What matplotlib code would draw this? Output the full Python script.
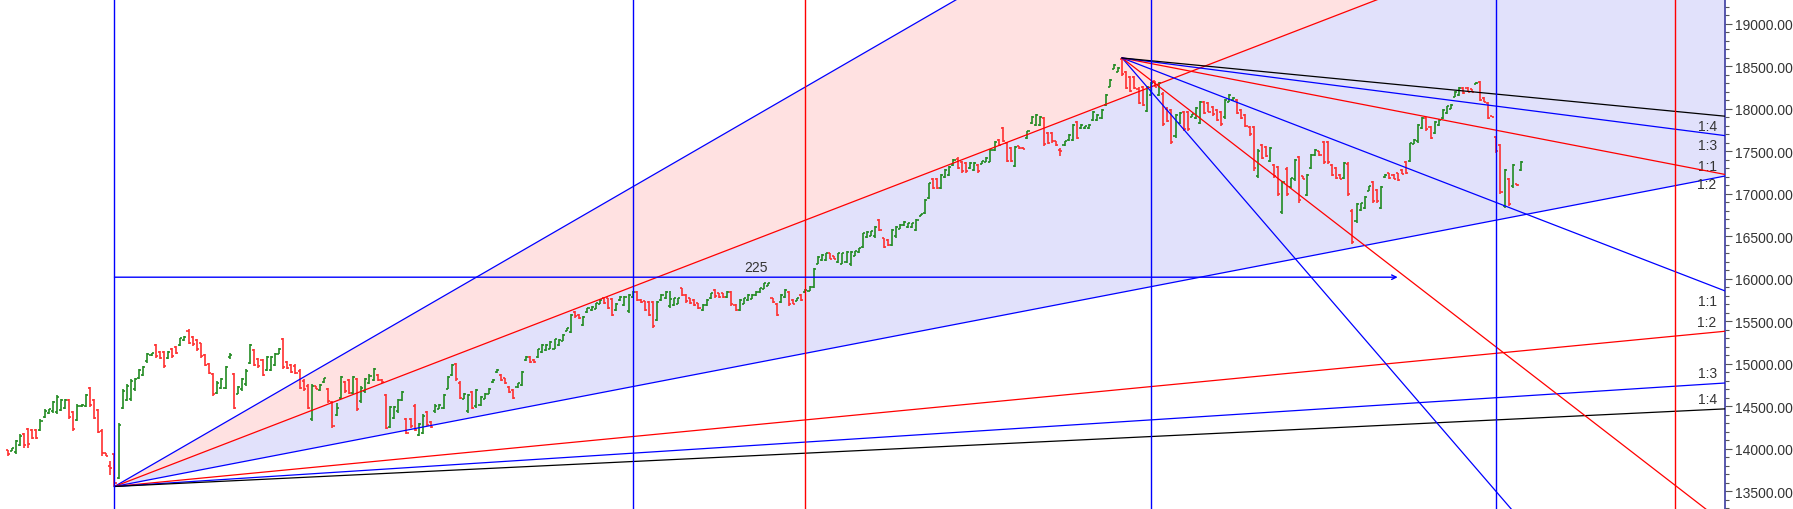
import numpy as np
import matplotlib
matplotlib.use('Agg')
import matplotlib.pyplot as plt
from matplotlib.collections import LineCollection
from matplotlib.ticker import MultipleLocator, FormatStrFormatter

# daily bars: [open, high, low, close]
pre_low = [
    [13985, 13992, 13914, 13935], [13980, 14012, 13973, 14005], [13960, 14102, 13934, 14090],
    [14050, 14169, 14032, 14155], [14180, 14189, 14012, 14040], [14230, 14240, 14012, 14060],
    [14220, 14228, 14110, 14125], [14225, 14236, 14118, 14130], [14220, 14346, 14208, 14330],
    [14370, 14464, 14358, 14450], [14420, 14472, 14405, 14465], [14440, 14562, 14424, 14550],
    [14430, 14629, 14413, 14615], [14460, 14582, 14444, 14570], [14480, 14589, 14464, 14580],
    [14580, 14589, 14346, 14380], [14430, 14444, 14208, 14230], [14340, 14523, 14326, 14500],
    [14500, 14523, 14495, 14520], [14510, 14640, 14495, 14630], [14720, 14727, 14495, 14520],
    [14570, 14582, 14346, 14360], [14460, 14472, 14189, 14200], [14215, 14228, 13914, 13950],
    [13950, 13954, 13914, 13920], [13800, 13855, 13698, 13780], [13935, 13940, 13557, 13600],
]

leg_a = [
    [13660, 14307, 13640, 14280], [14480, 14699, 14464, 14680], [14580, 14758, 14562, 14740],
    [14590, 14817, 14562, 14800], [14700, 14837, 14680, 14820], [14830, 14935, 14817, 14925],
    [14870, 14974, 14856, 14960], [15030, 15131, 15013, 15120], [15100, 15131, 15092, 15125],
    [15220, 15229, 15072, 15090], [15140, 15151, 15053, 15070], [15140, 15151, 14955, 14980],
    [15070, 15151, 15053, 15140], [15180, 15190, 15072, 15090], [15200, 15210, 15112, 15130],
    [15220, 15308, 15210, 15300], [15280, 15328, 15269, 15320], [15390, 15406, 15229, 15250],
    [15320, 15328, 15210, 15230], [15280, 15288, 15151, 15170], [15240, 15249, 15072, 15090],
    [15100, 15112, 14974, 14990], [15000, 15013, 14876, 14890], [14880, 14896, 14621, 14640],
    [14660, 14797, 14640, 14780], [14720, 14837, 14699, 14820], [14720, 14974, 14699, 14960],
    [15080, 15131, 15053, 15100], [14880, 14896, 14464, 14480], [14650, 14739, 14640, 14730],
    [14700, 14837, 14680, 14820], [14760, 14935, 14739, 14920], [15010, 15229, 14994, 15220],
    [15160, 15171, 14974, 14990], [15060, 15072, 14955, 14970], [15040, 15053, 14856, 14870],
    [14930, 15092, 14915, 15080], [14930, 15092, 14915, 15080],
]

leg_b = [
    [14990, 15132, 14975, 15120], [15120, 15191, 15112, 15180], [15290, 15308, 14935, 14960],
    [15020, 15033, 14935, 14950], [14985, 14994, 14896, 14910], [14980, 14994, 14876, 14890],
    [14920, 14935, 14700, 14720], [14800, 14817, 14680, 14700], [14740, 14759, 14464, 14480],
    [14350, 14759, 14327, 14740], [14735, 14739, 14700, 14705], [14690, 14759, 14680, 14750],
    [14790, 14837, 14778, 14830], [14710, 14719, 14543, 14560], [14550, 14562, 14248, 14270],
    [14400, 14543, 14386, 14480], [14600, 14857, 14582, 14840], [14790, 14798, 14660, 14680],
    [14810, 14817, 14641, 14660], [14660, 14857, 14641, 14845], [14820, 14837, 14444, 14470],
    [14560, 14739, 14543, 14720], [14680, 14837, 14660, 14820], [14780, 14876, 14759, 14860],
    [14810, 14955, 14798, 14940], [14870, 14876, 14798, 14810], [14815, 14817, 14778, 14785],
    [14630, 14641, 14229, 14250], [14260, 14503, 14248, 14490], [14360, 14503, 14346, 14490],
    [14440, 14582, 14425, 14570], [14575, 14680, 14562, 14670], [14350, 14366, 14170, 14190],
    [14355, 14366, 14248, 14265], [14510, 14523, 14209, 14225], [14165, 14307, 14150, 14290],
    [14190, 14405, 14170, 14390], [14430, 14444, 14268, 14285], [14320, 14327, 14248, 14260],
    [14440, 14523, 14425, 14510], [14470, 14523, 14464, 14515], [14480, 14641, 14464, 14630],
    [14710, 14857, 14700, 14845], [14870, 14994, 14857, 14985], [15000, 15014, 14798, 14820],
    [14780, 14798, 14582, 14600], [14590, 14660, 14582, 14650], [14440, 14641, 14425, 14630],
    [14670, 14680, 14464, 14480], [14500, 14700, 14484, 14690], [14515, 14621, 14503, 14610],
    [14590, 14660, 14582, 14650], [14650, 14719, 14641, 14710], [14785, 14817, 14778, 14810],
    [14900, 14935, 14896, 14930], [14870, 14876, 14798, 14810], [14830, 14837, 14759, 14770],
    [14730, 14739, 14660, 14670], [14690, 14700, 14582, 14595], [14725, 14778, 14719, 14770],
    [14750, 14916, 14739, 14905], [15040, 15092, 15033, 15085], [15085, 15092, 15014, 15025],
    [15050, 15053, 15014, 15020],
]

leg_c = [
    [15080, 15179, 15073, 15170], [15140, 15230, 15132, 15220], [15160, 15230, 15151, 15220],
    [15180, 15269, 15171, 15260], [15180, 15297, 15171, 15290], [15220, 15289, 15210, 15280],
    [15275, 15348, 15269, 15340], [15390, 15426, 15387, 15420], [15380, 15583, 15367, 15570],
    [15610, 15623, 15544, 15560], [15575, 15583, 15524, 15535], [15460, 15564, 15446, 15555],
    [15610, 15662, 15603, 15655], [15630, 15682, 15623, 15675], [15650, 15721, 15642, 15715],
    [15710, 15760, 15701, 15750], [15770, 15780, 15701, 15715], [15770, 15780, 15642, 15660],
    [15765, 15780, 15564, 15580], [15630, 15721, 15623, 15710], [15750, 15800, 15741, 15790],
    [15690, 15800, 15682, 15790], [15620, 15819, 15603, 15810], [15790, 15858, 15780, 15850],
    [15850, 15858, 15741, 15755], [15755, 15760, 15721, 15725], [15735, 15741, 15623, 15635],
    [15730, 15741, 15564, 15580], [15730, 15741, 15426, 15450], [15520, 15741, 15505, 15730],
    [15750, 15819, 15741, 15810], [15770, 15858, 15760, 15850], [15680, 15858, 15662, 15760],
    [15690, 15780, 15682, 15770], [15710, 15780, 15701, 15770], [15890, 15898, 15800, 15810],
    [15810, 15819, 15721, 15735], [15775, 15780, 15701, 15715], [15750, 15760, 15682, 15695],
    [15715, 15721, 15642, 15655], [15630, 15701, 15623, 15695], [15690, 15760, 15682, 15750],
    [15770, 15839, 15760, 15830], [15870, 15878, 15780, 15795], [15830, 15839, 15780, 15790],
    [15830, 15839, 15780, 15790], [15790, 15858, 15780, 15850], [15850, 15858, 15682, 15700],
    [15695, 15701, 15623, 15635], [15635, 15760, 15623, 15750], [15710, 15780, 15701, 15770],
    [15750, 15819, 15741, 15810], [15765, 15819, 15760, 15810], [15805, 15858, 15800, 15850],
    [15845, 15898, 15839, 15890], [15885, 15957, 15878, 15950], [15920, 15957, 15917, 15950],
    [15775, 15780, 15721, 15730], [15710, 15721, 15564, 15580], [15730, 15819, 15721, 15810],
    [15790, 15878, 15780, 15870],
    [15850, 15859, 15682, 15700], [15755, 15760, 15701, 15710], [15745, 15780, 15741, 15775],
    [15810, 15819, 15741, 15750], [15840, 15878, 15839, 15870], [15860, 15917, 15859, 15910],
    [15910, 16133, 15897, 16120],
]

leg_d = [
    [16180, 16271, 16172, 16260], [16220, 16290, 16212, 16280], [16220, 16310, 16212, 16300],
    [16300, 16310, 16231, 16240], [16265, 16271, 16231, 16235], [16200, 16310, 16192, 16300],
    [16180, 16310, 16172, 16300], [16200, 16329, 16192, 16320], [16170, 16329, 16153, 16320],
    [16275, 16329, 16271, 16325], [16315, 16369, 16310, 16360], [16380, 16545, 16369, 16535],
    [16495, 16565, 16487, 16555], [16510, 16565, 16506, 16560], [16500, 16624, 16487, 16615],
    [16690, 16702, 16565, 16580], [16480, 16487, 16369, 16380], [16460, 16467, 16388, 16395],
    [16400, 16585, 16388, 16575], [16500, 16624, 16487, 16615], [16590, 16644, 16585, 16640],
    [16630, 16683, 16624, 16675], [16610, 16663, 16604, 16655], [16610, 16663, 16604, 16655],
    [16575, 16702, 16565, 16695], [16745, 16761, 16742, 16758], [16770, 16938, 16761, 16930],
    [16950, 17134, 16938, 17125], [17180, 17193, 17056, 17070], [17180, 17193, 17056, 17070],
    [17070, 17233, 17056, 17220], [17200, 17291, 17193, 17280], [17220, 17331, 17213, 17320],
    [17340, 17409, 17331, 17400], [17415, 17429, 17291, 17305], [17380, 17390, 17252, 17265],
    [17360, 17370, 17252, 17265], [17300, 17370, 17291, 17360], [17280, 17370, 17272, 17360],
    [17340, 17350, 17252, 17265], [17355, 17390, 17350, 17385], [17375, 17429, 17370, 17420],
    [17380, 17527, 17370, 17515], [17520, 17625, 17508, 17615], [17635, 17645, 17566, 17580],
    [17770, 17782, 17606, 17620], [17595, 17606, 17370, 17385], [17535, 17547, 17370, 17385],
    [17330, 17566, 17311, 17555], [17560, 17566, 17527, 17535], [17545, 17547, 17527, 17530],
    [17655, 17743, 17645, 17735], [17830, 17920, 17822, 17910], [17815, 17940, 17802, 17930],
    [17815, 17920, 17802, 17910],
]

leg_e = [
    [17890, 17900, 17566, 17590], [17715, 17723, 17586, 17600], [17715, 17723, 17605, 17620],
    [17620, 17625, 17566, 17575], [17520, 17546, 17448, 17500], [17570, 17625, 17566, 17620],
    [17630, 17704, 17625, 17695], [17640, 17821, 17625, 17810], [17850, 17861, 17645, 17660],
    [17770, 17821, 17763, 17815], [17770, 17802, 17763, 17795], [17770, 17821, 17763, 17815],
    [17870, 17979, 17861, 17970], [17870, 17939, 17861, 17930], [17890, 17998, 17880, 17990],
    [18045, 18175, 18037, 18165], [18260, 18352, 18253, 18345], [18475, 18528, 18469, 18520],
    [18435, 18489, 18430, 18480], [18590, 18600, 18391, 18410],
]

leg_f = [
    [18440, 18450, 18234, 18250], [18380, 18391, 18195, 18210], [18380, 18391, 18234, 18250],
    [18240, 18253, 18057, 18070], [18260, 18273, 18037, 18050], [17980, 18273, 17959, 18260],
    [18165, 18312, 18155, 18300], [18325, 18332, 18253, 18260], [18165, 18312, 18155, 18300],
    [18180, 18195, 17802, 17820], [18005, 18018, 17841, 17855], [17985, 17998, 17586, 17610],
    [17680, 17939, 17664, 17925], [17830, 17959, 17821, 17950], [17965, 17979, 17743, 17760],
    [17965, 17979, 17743, 17760], [17905, 17939, 17900, 17935], [17890, 18018, 17880, 18010],
    [17840, 18096, 17821, 18085], [18085, 18096, 17939, 17955], [18065, 18077, 17959, 17970],
    [18025, 18037, 17920, 17935], [17985, 17998, 17861, 17875], [17965, 17979, 17802, 17820],
    [17900, 18116, 17880, 18105], [18085, 18175, 18077, 18165], [18100, 18136, 18096, 18130],
    [18105, 18116, 17939, 17955], [17990, 17998, 17880, 17895], [17925, 17939, 17782, 17800],
    [17790, 17802, 17684, 17700], [17785, 17802, 17272, 17300], [17215, 17527, 17193, 17510],
    [17575, 17586, 17409, 17425], [17555, 17566, 17429, 17445], [17385, 17547, 17370, 17535],
    [17340, 17350, 17193, 17210], [17315, 17331, 16977, 17000], [16790, 17154, 16761, 17140],
    [17295, 17311, 16977, 17000], [17085, 17193, 17075, 17185],
]

leg_g = [
    [17170, 17409, 17154, 17395], [17430, 17448, 16898, 16930], [17210, 17213, 17173, 17180],
    [16990, 17232, 16977, 17220], [17300, 17468, 17291, 17455], [17455, 17527, 17448, 17520],
    [17500, 17507, 17448, 17455], [17610, 17625, 17350, 17370], [17610, 17625, 17350, 17370],
    [17340, 17350, 17213, 17225], [17300, 17311, 17173, 17185], [17225, 17232, 17173, 17180],
    [17185, 17370, 17173, 17360], [17355, 17370, 16977, 17000], [16800, 16820, 16408, 16440],
    [16680, 16898, 16663, 16885], [16810, 16898, 16800, 16890], [16830, 16977, 16820, 16965],
    [17040, 17095, 17036, 17090], [17140, 17154, 16898, 16920], [17045, 17056, 16898, 16915],
    [16835, 17095, 16820, 17085], [17195, 17232, 17193, 17228], [17245, 17252, 17173, 17185],
    [17225, 17232, 17173, 17180], [17245, 17252, 17154, 17165], [17285, 17291, 17232, 17240],
    [17380, 17389, 17232, 17245], [17385, 17605, 17370, 17595], [17590, 17645, 17586, 17640],
    [17620, 17821, 17605, 17810], [17775, 17900, 17762, 17890], [17890, 17900, 17743, 17760],
    [17790, 17802, 17645, 17660], [17715, 17861, 17703, 17850], [17810, 17880, 17802, 17870],
    [17890, 17998, 17880, 17990], [17950, 18037, 17939, 18030], [18005, 18057, 17998, 18050],
    [18140, 18214, 18135, 18205], [18165, 18253, 18155, 18245], [18245, 18253, 18175, 18185],
    [18245, 18253, 18194, 18200], [18230, 18234, 18194, 18200], [18295, 18312, 18293, 18308],
    [18320, 18332, 18096, 18110], [18130, 18135, 18077, 18085], [18065, 18077, 17880, 17895],
    [17918, 17920, 17900, 17905], [17670, 17684, 17487, 17500], [17570, 17586, 16997, 17020],
    [16860, 17291, 16840, 17280], [17180, 17193, 16859, 16880], [17090, 17350, 17075, 17340],
    [17112, 17115, 17095, 17100], [17285, 17389, 17272, 17380],
]

# Gann settings
asc_unit = 9.33      # price per bar for the 1:1 line from the low
desc_unit = 18.7     # price per bar for the 1:1 line from the top
fan_ratios = [3, 2, 1, 1 / 2, 1 / 3, 1 / 4]
fan_names = ['3:1', '2:1', '1:1', '1:2', '1:3', '1:4']
fan_colors = ['#0000ff', '#ff0000', '#0000ff', '#ff0000', '#0000ff', '#000000']
time_marks = [0, 126, 168, 252, 336, 379.5]
time_colors = ['#0000ff', '#0000ff', '#ff0000', '#0000ff', '#0000ff', '#ff0000']
level_price = 16020
level_bars = 312
level_text = '225'

bars = np.array(pre_low + leg_a + leg_b + leg_c + leg_d + leg_e + leg_f + leg_g, dtype=float)
opens, highs, lows, closes = bars.T
idx = np.arange(len(bars))

low_i = int(np.argmin(lows))
low_p = lows[low_i]
top_i = int(np.argmax(highs))
top_p = highs[top_i]

x0, x1 = -1.84, 417.6
y0, y1 = 13292, 19294

fig = plt.figure(figsize=(17.93, 5.10), dpi=100)
ax = fig.add_axes([0, 0, 1725 / 1793, 1])
ax.set_xlim(x0, x1)
ax.set_ylim(y0, y1)

# shaded fan sectors from the low
xs = np.linspace(low_i, x1, 200)
fan = lambda r: low_p + r * asc_unit * (xs - low_i)
ax.fill_between(xs, fan(2), fan(3), color='#ffe1e1', lw=0, zorder=1)
ax.fill_between(xs, fan(1), fan(2), color='#e1e1fb', lw=0, zorder=1)

# OHLC bars
up = closes >= opens
cols = np.where(up, '#228b22', '#ff3030')
segs, seg_cols = [], []
for i in idx:
    segs += [[(i, lows[i]), (i, highs[i])],
             [(i - 0.5, opens[i]), (i, opens[i])],
             [(i, closes[i]), (i + 0.5, closes[i])]]
    seg_cols += [cols[i]] * 3
ax.add_collection(LineCollection(segs, colors=seg_cols, linewidths=1.2, zorder=2))

# fans
for r, name, c in zip(fan_ratios, fan_names, fan_colors):
    ye = low_p + r * asc_unit * (x1 - low_i)
    ax.plot([low_i, x1], [low_p, ye], color=c, lw=0.9, zorder=3)
    if y0 < ye < y1:
        ax.annotate(name, (x1, ye), xytext=(-6, 7), textcoords='offset points',
                    ha='right', va='center', fontsize=10, color='#333333',
                    family='Liberation Sans')
for r, name, c in zip(fan_ratios, fan_names, fan_colors):
    ye = top_p - r * desc_unit * (x1 - top_i)
    ax.plot([top_i, x1], [top_p, ye], color=c, lw=0.9, zorder=3)
    if y0 < ye < y1:
        ax.annotate(name, (x1, ye), xytext=(-6, -7), textcoords='offset points',
                    ha='right', va='center', fontsize=10, color='#333333',
                    family='Liberation Sans')

# time cycle lines
for off, c in zip(time_marks, time_colors):
    ax.axvline(low_i + off, color=c, lw=1.0, zorder=3)

# horizontal level with arrow
ax.annotate('', xy=(low_i + level_bars, level_price), xytext=(low_i, level_price),
            arrowprops=dict(arrowstyle='->', color='#0000ff', lw=1.0,
                            mutation_scale=8, shrinkA=0, shrinkB=0), zorder=3)
ax.annotate(level_text, (low_i + level_bars / 2, level_price), xytext=(0, 7),
            textcoords='offset points', ha='center', va='center', fontsize=10,
            color='#333333', family='Liberation Sans')

# axis styling
for s in ['left', 'top', 'bottom']:
    ax.spines[s].set_visible(False)
ax.spines['right'].set_color('#3c3ca0')
ax.spines['right'].set_linewidth(1.2)
ax.set_xticks([])
ax.yaxis.tick_right()
ax.yaxis.set_major_locator(MultipleLocator(500))
ax.yaxis.set_minor_locator(MultipleLocator(100))
ax.yaxis.set_major_formatter(FormatStrFormatter('%.2f'))
ax.tick_params(axis='y', which='major', length=5, width=0.8, color='#555555',
               labelsize=10, labelcolor='#333333', pad=2)
ax.tick_params(axis='y', which='minor', length=3, width=0.8, color='#555555')
for lab in ax.get_yticklabels():
    lab.set_family('Liberation Sans')

fig.savefig('out.png', dpi=100)
